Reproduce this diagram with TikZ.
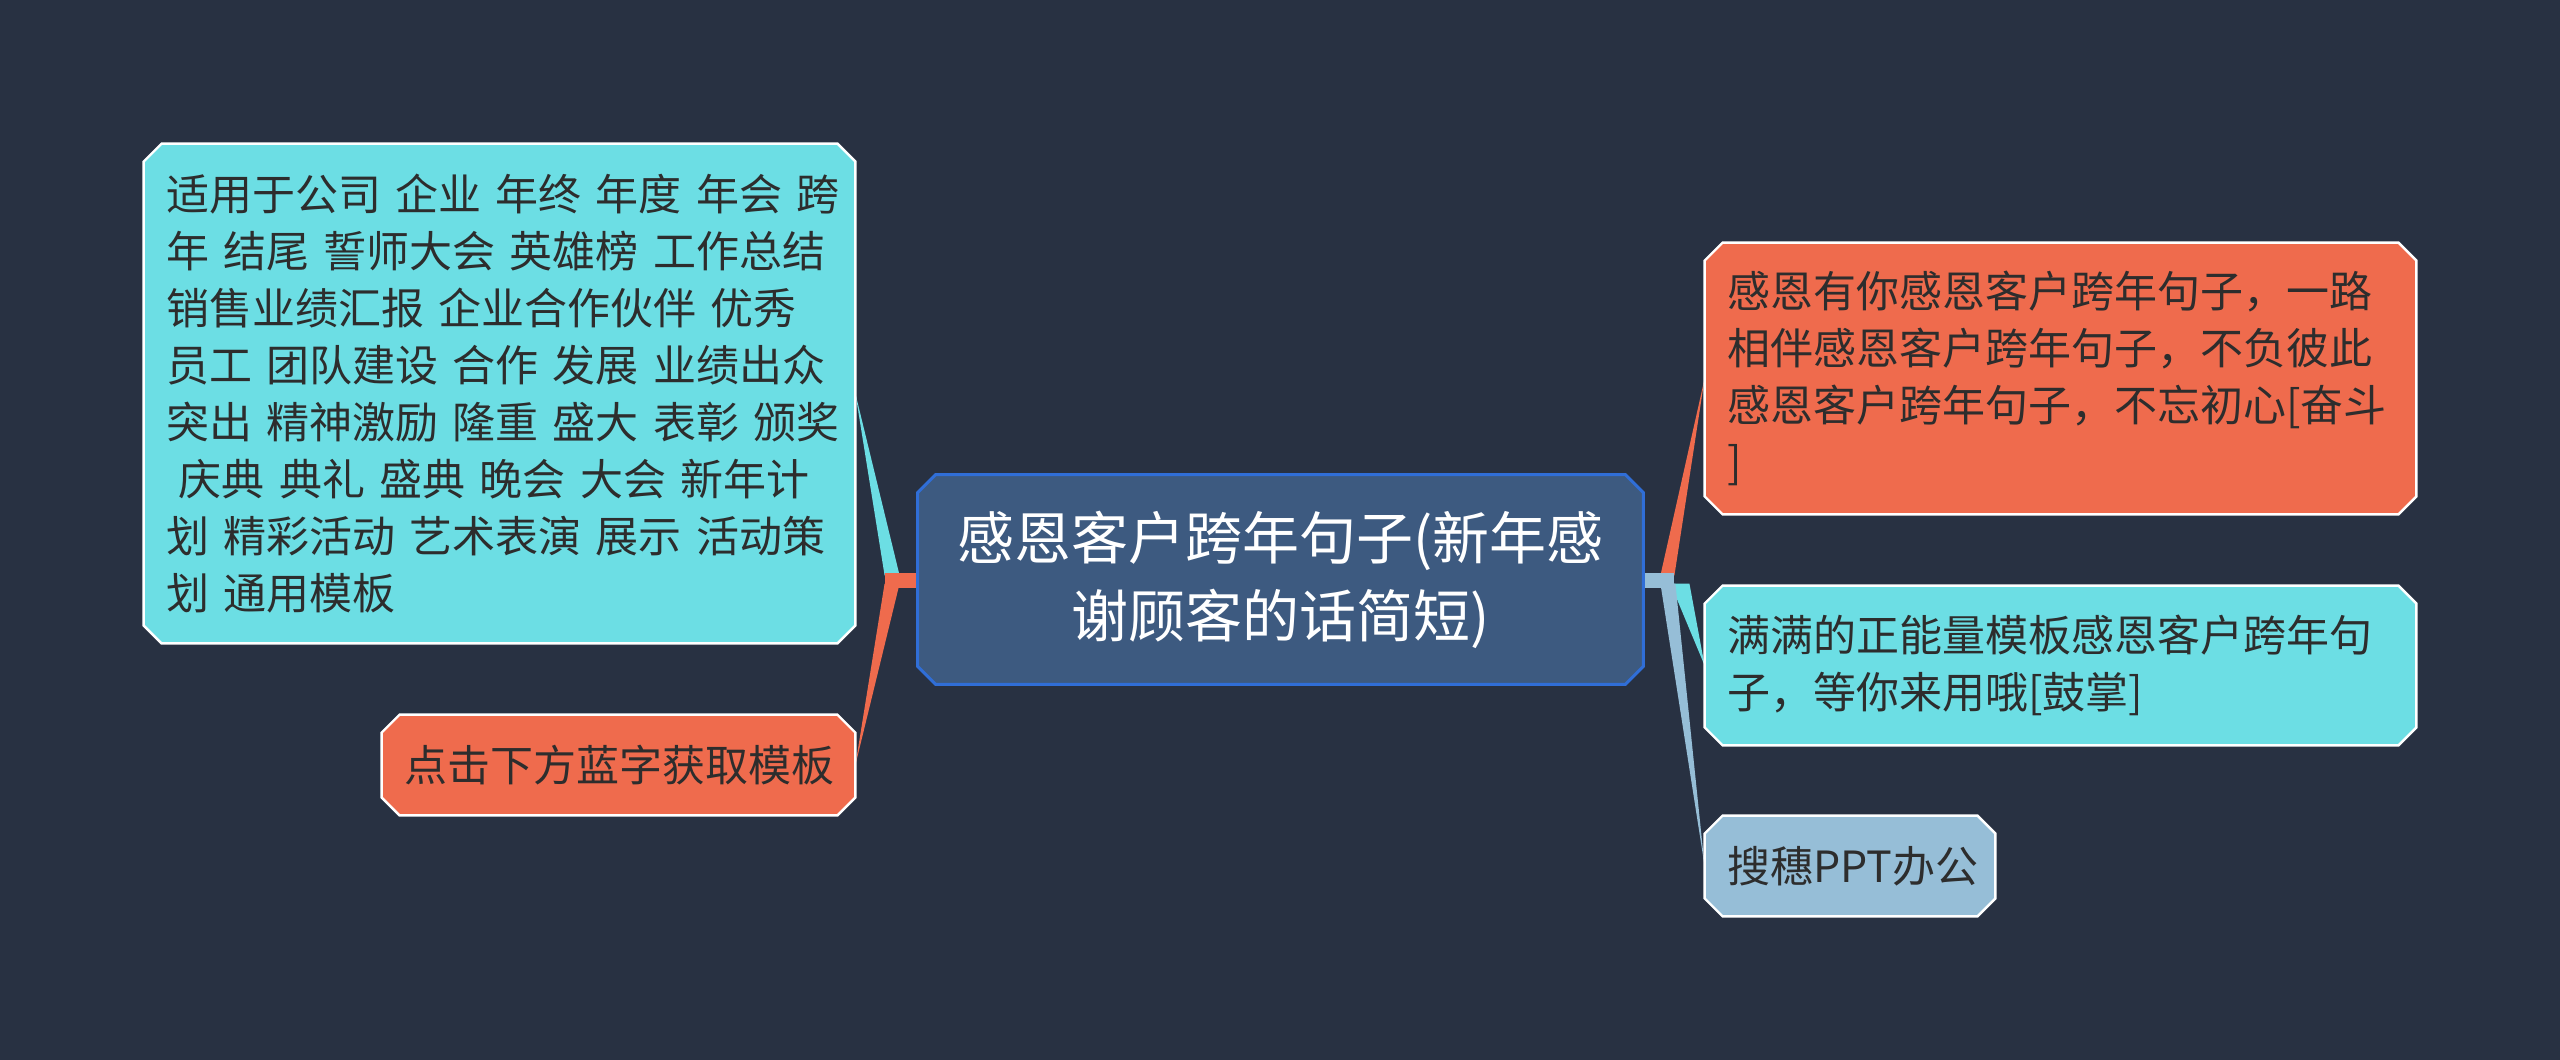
\documentclass[tikz,border=0pt]{standalone}
\usepackage{fontspec}
\setmainfont{Noto Sans CJK SC}
\usetikzlibrary{calc,backgrounds}
\definecolor{bgc}{RGB}{40,49,66}
\definecolor{cyanc}{RGB}{108,222,228}
\definecolor{orangec}{RGB}{239,107,77}
\definecolor{lbluec}{RGB}{150,190,215}
\definecolor{cfill}{RGB}{61,90,128}
\definecolor{cborder}{RGB}{48,110,215}
\definecolor{txt}{RGB}{45,45,45}
\newcommand\octbox[4]{%
  \filldraw[fill=#2,draw=#3,line width=#4]
    ($(#1.north west)+(18,0)$) -- ($(#1.north east)+(-18,0)$) --
    ($(#1.north east)+(0,18)$) -- ($(#1.south east)+(0,-18)$) --
    ($(#1.south east)+(-18,0)$) -- ($(#1.south west)+(18,0)$) --
    ($(#1.south west)+(0,-18)$) -- ($(#1.north west)+(0,18)$) -- cycle;}
\tikzset{
  childbox/.style={inner xsep=11pt, inner ysep=0pt, align=left, text=txt,
    font=\fontsize{21.5pt}{28.5pt}\selectfont, anchor=center},
  rootbox/.style={inner sep=0pt, align=center, text=white,
    font=\fontsize{28.5pt}{39pt}\selectfont, anchor=center,
    minimum width=362.5pt, minimum height=104.5pt},
}
\begin{document}
\begin{tikzpicture}[x=0.5pt,y=-0.5pt]
\useasboundingbox (0,0) rectangle (2560,1060);
% nodes
\node[rootbox] (C) at (1280.5,579.5) {感恩客户跨年句子(新年感\\谢顾客的话简短)};
\node[childbox, text width=333.5pt, minimum height=249.5pt] (LT) at (499.5,393.5)
 {\mbox{适用于公司 企业 年终 年度 年会 跨}\\\mbox{年 结尾 誓师大会 英雄榜 工作总结}\\\mbox{销售业绩汇报 企业合作伙伴 优秀}\\\mbox{员工 团队建设 合作 发展 业绩出众}\\\mbox{突出 精神激励 隆重 盛大 表彰 颁奖}\\\mbox{\hspace*{0.3em}庆典 典礼 盛典 晚会 大会 新年计}\\\mbox{划 精彩活动 艺术表演 展示 活动策}\\\mbox{划 通用模板}};
\node[childbox, text width=214.5pt, minimum height=50pt] (LB) at (618.5,765) {点击下方蓝字获取模板};
\node[childbox, text width=333.5pt, minimum height=135.5pt] (RT) at (2060.5,378.5)
 {\mbox{感恩有你感恩客户跨年句子，一路}\\\mbox{相伴感恩客户跨年句子，不负彼此}\\\mbox{感恩客户跨年句子，不忘初心[奋斗}\\]};
\node[childbox, text width=333.5pt, minimum height=79.5pt] (RM) at (2060.5,665.5)
 {\mbox{满满的正能量模板感恩客户跨年句}\\\mbox{子，等你来用哦[鼓掌]}};
\node[childbox, text width=123pt, minimum height=50pt] (RB) at (1850,866) {搜穗PPT办公};
\begin{scope}[on background layer]
  \fill[bgc] (0,0) rectangle (2560,1060);
  % left connectors
  \coordinate (La) at ($(C.west)+(-33,-4)$);
  \coordinate (Lb) at ($(C.west)+(-18,-4)$);
  \coordinate (Lc) at ($(C.west)+(-33,4)$);
  \coordinate (Ld) at ($(C.west)+(-18,4)$);
  \fill[cyanc] (La) -- (Lb) -- (LT.east) -- cycle;
  \fill[orangec] (Lc) -- (Ld) -- (LB.east) -- cycle;
  \fill[orangec] ($(C.west)+(-33,-7)$) rectangle ($(C.west)+(1,8)$);
  % right connectors
  \coordinate (Ra) at ($(C.east)+(17,-4)$);
  \coordinate (Rb) at ($(C.east)+(31,-4)$);
  \coordinate (Rc) at ($(C.east)+(17,4)$);
  \coordinate (Rd) at ($(C.east)+(32,4)$);
  \coordinate (Re) at ($(C.east)+(27,4)$);
  \coordinate (Rf) at ($(C.east)+(46,4)$);
  \fill[orangec] (Ra) -- (Rb) -- (RT.west) -- cycle;
  \fill[cyanc] (Re) -- (Rf) -- (RM.west) -- cycle;
  \fill[lbluec] (Rc) -- (Rd) -- (RB.west) -- cycle;
  \fill[lbluec] ($(C.east)+(-1,-7)$) rectangle ($(C.east)+(31,8)$);
  % boxes
  \octbox{C}{cfill}{cborder}{1.5pt}
  \octbox{LT}{cyanc}{white}{1.2pt}
  \octbox{LB}{orangec}{white}{1.2pt}
  \octbox{RT}{orangec}{white}{1.2pt}
  \octbox{RM}{cyanc}{white}{1.2pt}
  \octbox{RB}{lbluec}{white}{1.2pt}
\end{scope}
\end{tikzpicture}
\end{document}
